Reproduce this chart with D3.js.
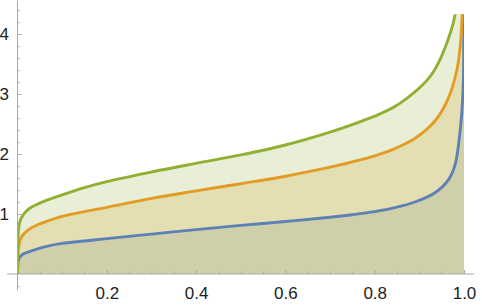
<!DOCTYPE html>
<html>
<head>
<meta charset="utf-8">
<script src="https://cdnjs.cloudflare.com/ajax/libs/d3/7.8.5/d3.min.js"></script>
<style>
  body { margin: 0; background: #fff; }
  .axis text { font-family: "Liberation Sans", Arial, sans-serif; font-size: 17px; fill: #222; }
  .axis line { stroke: #a8a8a8; }
</style>
</head>
<body>
<div id="chart"></div>
<script>
// probabilities / values
const blueP  = [0, 0.0005, 0.002, 0.005, 0.012, 0.025, 0.045, 0.07, 0.1, 0.15, 0.2, 0.3, 0.4, 0.5, 0.6, 0.7, 0.75, 0.8, 0.845, 0.89, 0.935, 0.965, 0.98, 0.989, 0.995, 0.9985, 0.9995, 1];
const blueV  = [0, 0.12, 0.22, 0.28, 0.33, 0.37, 0.42, 0.47, 0.51, 0.55, 0.59, 0.665, 0.74, 0.81, 0.875, 0.945, 0.988, 1.04, 1.105, 1.20, 1.355, 1.57, 1.82, 2.23, 2.68, 3.2, 4.0, 8];
const orangeP = [0, 0.0005, 0.002, 0.006, 0.012, 0.025, 0.045, 0.07, 0.1, 0.15, 0.2, 0.3, 0.4, 0.5, 0.6, 0.7, 0.75, 0.8, 0.845, 0.89, 0.935, 0.965, 0.984, 0.991, 0.996, 0.998, 1];
const orangeV = [0, 0.25, 0.42, 0.57, 0.65, 0.74, 0.82, 0.89, 0.96, 1.04, 1.11, 1.26, 1.385, 1.505, 1.63, 1.78, 1.87, 1.97, 2.09, 2.26, 2.55, 2.93, 3.40, 3.75, 4.32, 5.0, 8];
const greenP = [0, 0.0005, 0.002, 0.005, 0.01, 0.02, 0.0325, 0.062, 0.1, 0.15, 0.2, 0.3, 0.4, 0.5, 0.6, 0.7, 0.75, 0.8, 0.845, 0.9, 0.925, 0.946, 0.969, 0.98, 0.99, 1];
const greenV = [0, 0.45, 0.72, 0.86, 0.955, 1.05, 1.12, 1.22, 1.32, 1.44, 1.54, 1.70, 1.845, 1.985, 2.15, 2.365, 2.49, 2.63, 2.79, 3.10, 3.30, 3.57, 4.01, 4.32, 5.3, 8];

const xMajor = [0.2, 0.4, 0.6, 0.8, 1.0];
const xMinor = [0.05, 0.1, 0.15, 0.25, 0.3, 0.35, 0.45, 0.5, 0.55, 0.65, 0.7, 0.75, 0.85, 0.9, 0.95];
const yMajor = [1, 2, 3, 4];
const yMinor = [-0.2, 0.2, 0.4, 0.6, 0.8, 1.2, 1.4, 1.6, 1.8, 2.2, 2.4, 2.6, 2.8, 3.2, 3.4, 3.6, 3.8, 4.2, 4.4];

const series = [
  { name: 'blue', p: blueP, v: blueV, color: '#5e81b5' },
  { name: 'orange', p: orangeP, v: orangeV, color: '#e19c24' },
  { name: 'green', p: greenP, v: greenV, color: '#8fb032' }
];

const width = 482, height = 307;
const x = d3.scaleLinear().domain([0, 1]).range([17.5, 464]);
const y = d3.scaleLinear().domain([0, 1]).range([274, 214]);
const yClip = 4.33;

const svg = d3.select('#chart').append('svg')
  .attr('width', width)
  .attr('height', height);

svg.append('defs').append('clipPath').attr('id', 'plotclip')
  .append('rect')
  .attr('x', x(0)).attr('y', y(yClip))
  .attr('width', x(1) - x(0)).attr('height', y(0) - y(yClip));

const plot = svg.append('g').attr('clip-path', 'url(#plotclip)');

const curve = d3.curveCatmullRom.alpha(0.5);
const area = d3.area()
  .x(d => x(d[0]))
  .y0(y(0))
  .y1(d => y(d[1]))
  .curve(curve);
const line = d3.line()
  .x(d => x(d[0]))
  .y(d => y(d[1]))
  .curve(curve);

series.forEach(s => {
  s.pts = s.p.map((p, i) => [p, s.v[i]]);
  plot.append('path')
    .datum(s.pts)
    .attr('d', area)
    .attr('fill', s.color)
    .attr('fill-opacity', 0.2);
});

// axes
const axes = svg.append('g').attr('class', 'axis');
axes.append('line')
  .attr('x1', x(-0.023)).attr('x2', x(1.023))
  .attr('y1', y(0)).attr('y2', y(0));
axes.append('line')
  .attr('x1', x(0)).attr('x2', x(0))
  .attr('y1', y(-0.27)).attr('y2', y(4.56));

const xAx = svg.append('g').attr('class', 'axis').attr('transform', 'translate(0,' + y(0) + ')');
xAx.call(d3.axisBottom(x).tickValues(xMajor).tickSize(-4).tickPadding(12.5).tickFormat(d3.format('.1f')));
xAx.append('g').call(d3.axisBottom(x).tickValues(xMinor).tickSize(-2.2).tickFormat(''));
xAx.selectAll('.domain').remove();

const yAx = svg.append('g').attr('class', 'axis').attr('transform', 'translate(' + x(0) + ',0)');
yAx.call(d3.axisLeft(y).tickValues(yMajor).tickSize(-4).tickPadding(8.5).tickFormat(d3.format('d')));
yAx.append('g').call(d3.axisLeft(y).tickValues(yMinor).tickSize(-2.2).tickFormat(''));
yAx.selectAll('.domain').remove();

series.forEach(s => {
  plot.append('path')
    .datum(s.pts)
    .attr('d', line)
    .attr('fill', 'none')
    .attr('stroke', s.color)
    .attr('stroke-width', 2.9);
});
</script>
</body>
</html>
